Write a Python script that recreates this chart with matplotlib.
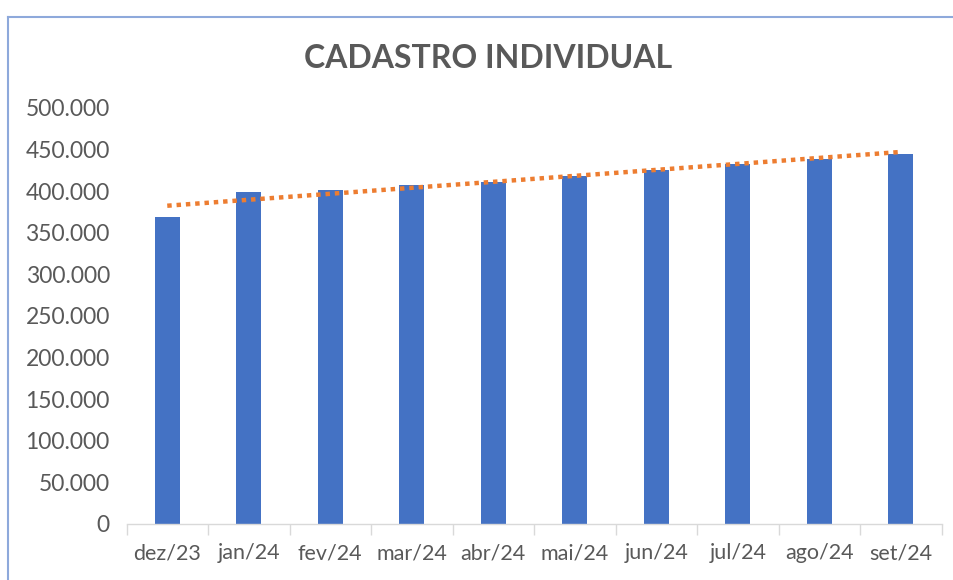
import matplotlib
matplotlib.use("Agg")
import matplotlib.pyplot as plt
import numpy as np
from matplotlib.ticker import FuncFormatter, FixedLocator

categories = ["dez/23", "jan/24", "fev/24", "mar/24", "abr/24", "mai/24",
              "jun/24", "jul/24", "ago/24", "set/24"]
values = [369000, 399000, 401500, 407000, 411000, 418000, 426000, 433000, 439000, 445000]
title = "CADASTRO INDIVIDUAL"

plt.rcParams['font.family'] = ['Lato', 'DejaVu Sans']

fig = plt.figure(figsize=(9.54, 5.8), dpi=100)
ax = fig.add_axes([0.1326, 0.0966, 0.8544, 0.7172])

x = np.arange(len(categories))
ax.bar(x, values, width=0.31, color="#4472C4", zorder=2)

# linear trendline
coef = np.polyfit(x, values, 1)
trend = np.polyval(coef, x)
ax.plot(x, trend, color="#ED7D31", linestyle=(0, (1, 1.1)), linewidth=3.2, zorder=3)

ax.set_xlim(-0.5, len(categories) - 0.5)
ax.set_ylim(0, 500000)
ax.yaxis.set_major_locator(FixedLocator(np.arange(0, 500001, 50000)))
ax.yaxis.set_major_formatter(FuncFormatter(lambda v, p: f"{int(v):,}".replace(",", ".")))

ax.set_xticks(x)
ax.set_xticklabels(categories)
ax.xaxis.set_minor_locator(FixedLocator(np.arange(-0.5, len(categories), 1.0)))
ax.tick_params(axis='x', which='major', length=0, pad=14, labelsize=15.5, labelcolor="#595959")
ax.tick_params(axis='x', which='minor', length=8, width=1, color="#D9D9D9", direction='out')
ax.tick_params(axis='y', length=0, pad=12, labelsize=16.5, labelcolor="#595959")

for s in ["top", "right", "left"]:
    ax.spines[s].set_visible(False)
ax.spines["bottom"].set_color("#D9D9D9")
ax.spines["bottom"].set_linewidth(1)

fig.text(0.512, 0.900, title, ha="center", va="center", fontsize=23,
         fontweight="bold", color="#595959")

# chart border (left and top visible)
fig.add_artist(plt.Line2D([8/954, 8/954], [0, 1 - 17/580], transform=fig.transFigure,
                          color="#8EA9DB", linewidth=1.5))
fig.add_artist(plt.Line2D([8/954, 1], [1 - 17/580, 1 - 17/580], transform=fig.transFigure,
                          color="#8EA9DB", linewidth=1.5))

fig.savefig("out.png", dpi=100)
